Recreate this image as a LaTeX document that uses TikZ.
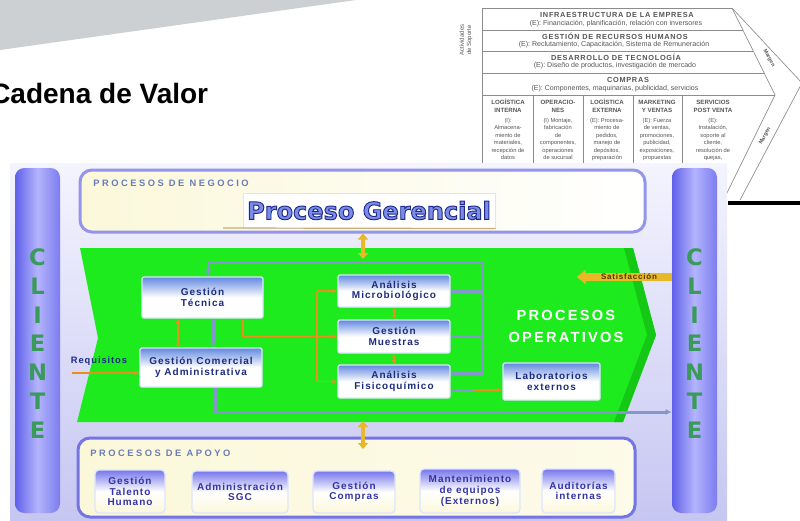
\documentclass[tikz,border=0pt]{standalone}
\usepackage{fontspec}
\setmainfont{Liberation Sans}
\newfontfamily\dvs{DejaVu Sans}
\newfontfamily\boxf[LetterSpace=10]{Liberation Sans}
\newfontfamily\opf[LetterSpace=15]{Liberation Sans}
\newfontfamily\lblf[LetterSpace=27]{Liberation Sans}
\usetikzlibrary{arrows.meta}
\newdimen\px \px=0.75pt
\newcommand\fsz[2]{\fontsize{#1}{#2}\selectfont}
\newcommand\outl[3]{\special{pdf:literal direct 2 Tr #1 w #2 RG}#3\special{pdf:literal direct 0 Tr}}
\definecolor{bandgray}{HTML}{CDD0D3}
\definecolor{plinec}{HTML}{8C8C8C}
\definecolor{ptext}{HTML}{555555}
\definecolor{barA}{HTML}{6060EA}
\definecolor{barB}{HTML}{B4B4FD}
\definecolor{barC}{HTML}{7C7CF0}
\definecolor{cgreen}{HTML}{3A9A5A}
\definecolor{cream}{HTML}{FBF8DA}
\definecolor{lgreen}{HTML}{1DEB1D}
\definecolor{dgreen}{HTML}{16C816}
\definecolor{boxtop}{HTML}{6289DF}
\definecolor{boxtxt}{HTML}{1E2C7E}
\definecolor{boxedge}{HTML}{DCE5FF}
\definecolor{btop}{HTML}{7676EC}
\definecolor{btxt}{HTML}{3434A4}
\definecolor{loopc}{HTML}{8497C9}
\definecolor{orangec}{HTML}{E8901A}
\definecolor{goldc}{HTML}{E8B828}
\definecolor{lbltxt}{HTML}{6C7CB8}
\definecolor{pgfill}{HTML}{7A8CE6}
\definecolor{bgtop}{HTML}{F4F4FE}
\definecolor{bgbot}{HTML}{C6C6F2}
\definecolor{tpborder}{HTML}{9494EA}
\definecolor{bpborder}{HTML}{7474E4}
\definecolor{goldline}{HTML}{C8B070}
\definecolor{sattxt}{HTML}{4A3A00}
\definecolor{reqtxt}{HTML}{1A2A8A}
\tikzset{
  ptitle/.style={font=\boxf\fsz{5.5}{6}\bfseries, text=ptext, inner sep=0},
  psub/.style={font=\fsz{5.3}{6}, text=ptext, inner sep=0},
  pcoltitle/.style={font=\fsz{4.6}{6}\bfseries, text=ptext, inner sep=0, align=center},
  pcol/.style={font=\fsz{4.3}{5.6}, text=ptext, inner sep=0, align=center, anchor=north},
  pline/.style={draw=plinec, line width=0.5pt},
  margen/.style={font=\fsz{4}{5}\bfseries, text=ptext, inner sep=0},
  gbox/.style={rectangle, rounded corners=1.5pt, draw=boxedge, line width=1pt,
    top color=boxtop, bottom color=white, middle color=white, text=boxtxt,
    font=\boxf\fsz{7.5}{8}\bfseries, align=center, inner sep=0},
  abox/.style={rectangle, rounded corners=3pt, draw=boxedge, line width=1pt,
    top color=btop, bottom color=cream, middle color=white, text=btxt,
    font=\boxf\fsz{7.5}{8}\bfseries, align=center, inner sep=0},
  cbar/.style={rectangle, rounded corners=7pt, left color=barA, right color=barC, middle color=barB},
  cletters/.style={font=\dvs\bfseries\fsz{17}{21.6}, text=cgreen, align=center, inner sep=0},
  lbl/.style={font=\lblf\bfseries\fsz{7}{8}, text=lbltxt, inner sep=0},
  loopline/.style={draw=loopc, line width=2.25pt},
  oline/.style={draw=orangec, line width=1.2pt},
  garrow/.style={draw=goldc, line width=2.6pt, {Triangle[length=4.5pt,width=7.5pt]}-{Triangle[length=4.5pt,width=7.5pt]}},
  ltip/.style={-{Latex[length=4.5pt,width=4.5pt]}},
  otip/.style={-{Latex[length=3.8pt,width=3.8pt]}},
  dtip/.style={{Latex[length=3.2pt,width=3.8pt]}-{Latex[length=3.2pt,width=3.8pt]}},
}
\begin{document}
\begin{tikzpicture}[x=0.75pt,y=-0.75pt]
\useasboundingbox (0,0) rectangle (800,521);
% grey band and title
\fill[bandgray] (0,0) -- (356,0) -- (0,50) -- cycle;
\node[anchor=base west, font=\bfseries\fsz{21}{24}, inner sep=0] (title) at (-10,103) {Cadena de Valor};

% ---------- Porter value chain picture ----------
\draw[pline] (482,8) -- (732,8);
\draw[pline] (482,30) -- (743,30);
\draw[pline] (482,51) -- (753,51);
\draw[pline] (482,73) -- (764,73);
\draw[pline] (482,95) -- (775,95);
\draw[pline] (482,8) -- (482,163);
\draw[pline] (732,8) -- (775,95) -- (725,197);
\draw[pline] (732,8) -- (802,83) -- (740,200);
\foreach \x in {533,583,633,682} \draw[pline] (\x,95) -- (\x,163);
\node[font=\fsz{4.5}{5.5}, text=ptext, rotate=90, align=center, inner sep=0] (act) at (466,40) {Actividades\\de Soporte};
\node[ptitle] (r1t) at (617,15) {INFRAESTRUCTURA DE LA EMPRESA};
\node[psub] (r1s) at (616,23.5) {(E): Financiación, planificación, relación con inversores};
\node[ptitle] (r2t) at (615,36.5) {GESTIÓN DE RECURSOS HUMANOS};
\node[psub] (r2s) at (614,44.5) {(E): Reclutamiento, Capacitación, Sistema de Remuneración};
\node[ptitle] (r3t) at (616,57.5) {DESARROLLO DE TECNOLOGÍA};
\node[psub] (r3s) at (615,66) {(E): Diseño de productos, investigación de mercado};
\node[ptitle] (r4t) at (628,80) {COMPRAS};
\node[psub] (r4s) at (615,89) {(E): Componentes, maquinarias, publicidad, servicios};
\node[pcoltitle] (c1t) at (508,106) {LOGÍSTICA\\INTERNA};
\node[pcoltitle] (c2t) at (558,106) {OPERACIO-\\NES};
\node[pcoltitle] (c3t) at (607,106) {LOGÍSTICA\\EXTERNA};
\node[pcoltitle] (c4t) at (657,106) {MARKETING\\Y VENTAS};
\node[pcoltitle] (c5t) at (713,106) {SERVICIOS\\POST VENTA};
\node[pcol] (c1) at (508,118) {(I):\\Almacena-\\miento de\\materiales,\\recepción de\\datos};
\node[pcol] (c2) at (558,118) {(I) Montaje,\\fabricación\\de\\componentes,\\operaciones\\de sucursal};
\node[pcol] (c3) at (607,118) {(E): Procesa-\\miento de\\pedidos,\\manejo de\\depósitos,\\preparación};
\node[pcol] (c4) at (657,118) {(E): Fuerza\\de ventas,\\promociones,\\publicidad,\\exposiciones,\\propuestas};
\node[pcol] (c5) at (713,118) {(E):\\Instalación,\\soporte al\\cliente,\\resolución de\\quejas,};
\node[margen, rotate=-62] (mg1) at (769,58) {Margen};
\node[margen, rotate=62] (mg2) at (765,136) {Margen};

% ---------- main panel ----------
\shade[top color=bgtop, bottom color=bgbot] (10,163) rectangle (727,521);
\draw[black, line width=3.4pt] (728,203) -- (800,203);

% client bars
\node[cbar, minimum width=45\px, minimum height=345\px] (lc) at (37.5,340.5) {};
\node[cbar, minimum width=45\px, minimum height=345\px] (rc) at (694.5,340.5) {};
\node[cletters] (lct) at (37.5,343.5) {C\\L\\I\\E\\N\\T\\E};
\node[cletters] (rct) at (694.5,343.5) {C\\L\\I\\E\\N\\T\\E};

% top panel
\node[rectangle, rounded corners=9pt, draw=tpborder, line width=2.25pt, left color=cream, right color=white, minimum width=565\px, minimum height=62\px] (tp) at (362.5,201) {};
\node[lbl, anchor=west] (tpl) at (93,183) {PROCESOS DE NEGOCIO};
\node[rectangle, fill=white, draw=boxedge, line width=0.75pt, minimum width=252\px, minimum height=35\px, inner sep=0,
      font=\dvs\bfseries\fsz{18}{20}, text=pgfill] (pg) at (369,210.5) {\outl{0.7}{0.12 0.16 0.55}{Proceso Gerencial}};
\coordinate (gl) at (223,228);
\draw[goldline, line width=0.9pt] (gl) -- (pg.south east);

% green operative chevron
\fill[lgreen] (80,248) -- (633,248) -- (656,335) -- (623,422) -- (77,422) -- (98,338) -- cycle;
\fill[dgreen] (624,248) -- (633,248) -- (656,335) -- (623,422) -- (614,422) -- (647,335) -- cycle;
\node[font=\opf\bfseries\fsz{11}{16.5}, text=white, align=center, inner sep=0] (po) at (566,326) {PROCESOS\\OPERATIVOS};

% boxes
\node[gbox, minimum width=121\px, minimum height=41\px] (gt) at (202.5,297.5) {Gestión\\Técnica};
\node[gbox, minimum width=122\px, minimum height=39\px] (gc) at (201,367.5) {Gestión Comercial\\y Administrativa};
\node[gbox, minimum width=112\px, minimum height=32\px] (am) at (394,291) {Análisis\\Microbiológico};
\node[gbox, minimum width=112\px, minimum height=33\px] (gm) at (394,336.5) {Gestión\\Muestras};
\node[gbox, minimum width=112\px, minimum height=33\px] (af) at (394,381.5) {Análisis\\Fisicoquímico};
\node[gbox, minimum width=97\px, minimum height=37\px] (le) at (551.5,381.5) {Laboratorios\\externos};

% blue loops
\coordinate (tr) at (482,262);
\coordinate (afe) at ([yshift=6.375pt]af.east);
\coordinate (gtn) at ([xshift=4.125pt]gt.north);
\draw[loopline, ltip] (afe) -| (tr) -| (gtn);
\draw[loopline] (am.east) -- (am.east -| tr);
\draw[loopline] (gm.east) -- (gm.east -| tr);
\coordinate (gtb) at ([xshift=7.875pt]gt.south);
\draw[loopline, ltip] (gtb) -- (gtb |- gc.north);
\coordinate (gcb) at ([xshift=10.5pt]gc.south);
\coordinate (rcl) at ([yshift=-53.625pt]rc.west);
\draw[loopline, ltip] (gcb) |- (rcl);

% orange links
\coordinate (gto) at ([xshift=-18.375pt]gt.south);
\draw[oline, dtip] (gto) -- (gto |- gc.north);
\coordinate (gto2) at ([xshift=30.375pt]gt.south);
\draw[oline, otip] (gto2) |- (gm.west);
\coordinate (ov) at (317,337);
\draw[oline] (ov |- am.west) -- (ov |- af.west);
\draw[oline, otip] (ov |- am.west) -- (am.west);
\draw[oline, otip] (ov |- af.west) -- (af.west);
\draw[oline, dtip] (am.south) -- (gm.north);
\draw[oline, dtip] (gm.south) -- (af.north);
\coordinate (lm) at (473,390);
\draw[loopline] (af.east |- lm) -- (lm);
\draw[oline, otip] (lm) -- (lm -| le.west);

% requisitos
\node[font=\boxf\bfseries\fsz{7}{8}, text=reqtxt, inner sep=0] (req) at (99,361) {Requisitos};
\coordinate (rq) at (72,373);
\draw[oline, otip] (rq) -- (rq -| gc.west);

% satisfaccion
\coordinate (rcs) at ([yshift=47.625pt]rc.west);
\draw[goldc, line width=6pt, -{Triangle[length=6.75pt,width=10.5pt]}] (rcs) -- ++(-95,0)
  node[pos=0.45, font=\boxf\bfseries\fsz{6}{7}, text=sattxt, inner sep=0] (sat) {Satisfacción};

% gold vertical arrows
\coordinate (ga) at (363,259);
\draw[garrow] (ga) -- (ga |- tp.south);

% bottom panel
\node[rectangle, rounded corners=9pt, draw=bpborder, line width=2.25pt, left color=cream, right color=cream!60!white, minimum width=557\px, minimum height=79\px] (bp) at (356.5,477.5) {};
\node[lbl, anchor=west] (bpl) at (90,453) {PROCESOS DE APOYO};
\coordinate (gb) at (363,421);
\coordinate (gb2) at (363,449);
\draw[garrow] (gb) -- (gb2);
\node[abox, minimum width=70\px, minimum height=43\px] (b1) at (130,491.5) {Gestión\\Talento\\Humano};
\node[abox, minimum width=96\px, minimum height=42\px] (b2) at (240,492) {Administración\\SGC};
\node[abox, minimum width=82\px, minimum height=42\px] (b3) at (354,492) {Gestión\\Compras};
\node[abox, minimum width=100\px, minimum height=44\px] (b4) at (470,491) {Mantenimiento\\de equipos\\(Externos)};
\node[abox, minimum width=73\px, minimum height=44\px] (b5) at (578.5,491) {Auditorías\\internas};
\end{tikzpicture}
\end{document}
